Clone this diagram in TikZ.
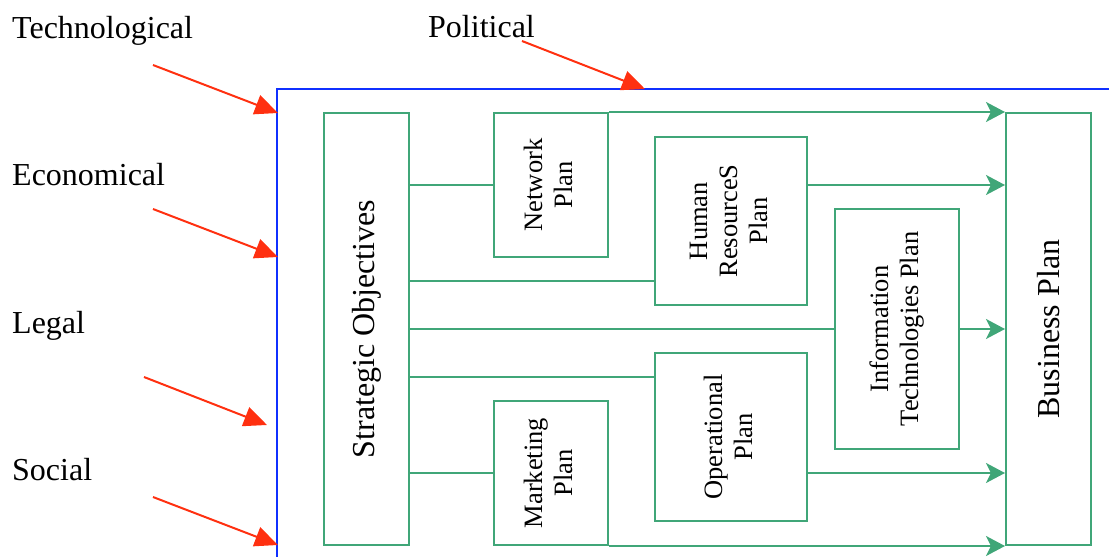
\documentclass[tikz,border=0pt]{standalone}
\usepackage{fontspec}
\usepackage{graphicx}
\setmainfont{Liberation Serif}
\usetikzlibrary{arrows.meta,calc}

\definecolor{planGreen}{RGB}{64,166,120}
\definecolor{forceRed}{RGB}{255,48,16}
\definecolor{frameBlue}{RGB}{16,48,255}

\newcommand{\bigtxt}{\fontsize{32}{36}\selectfont}
\newcommand{\smalltxt}{\fontsize{26.5}{30}\selectfont}

\tikzset{
  planbox/.style={draw=planGreen, line width=2pt, inner sep=0pt, fill=white},
  link/.style={draw=planGreen, line width=2pt},
  flow/.style={link, -{Stealth[length=19pt, width=20pt, inset=5pt]}},
  force/.style={draw=forceRed, line width=2pt, -{Triangle[length=23pt, width=20pt]}},
  forcelabel/.style={anchor=base west, inner sep=0pt, font=\bigtxt},
}

\begin{document}
\begin{tikzpicture}[x=1pt, y=-1pt]
\useasboundingbox (0,0) rectangle (1109,557);

% environment frame
\draw[frameBlue, line width=2.5pt] (277,560) -- (277,89) -- (1112,89);

% plan boxes
\node[planbox, minimum width=85pt, minimum height=432pt] (so) at (366.5,329)
  {\rotatebox{90}{\bigtxt Strategic Objectives}};
\node[planbox, minimum width=114pt, minimum height=144pt] (net) at (551,185)
  {\rotatebox{90}{\smalltxt\begin{tabular}{@{}c@{}}Network\\Plan\end{tabular}}};
\node[planbox, minimum width=152pt, minimum height=168pt] (hr) at (731,221)
  {\rotatebox{90}{\smalltxt\begin{tabular}{@{}c@{}}Human\\ResourceS\\Plan\end{tabular}}};
\node[planbox, minimum width=124pt, minimum height=240pt] (it) at (897,329)
  {\rotatebox{90}{\smalltxt\begin{tabular}{@{}c@{}}Information\\Technologies Plan\end{tabular}}};
\node[planbox, minimum width=152pt, minimum height=168pt] (op) at (731,437)
  {\rotatebox{90}{\smalltxt\begin{tabular}{@{}c@{}}Operational\\Plan\end{tabular}}};
\node[planbox, minimum width=114pt, minimum height=144pt] (mk) at (551,473)
  {\rotatebox{90}{\smalltxt\begin{tabular}{@{}c@{}}Marketing\\Plan\end{tabular}}};
\node[planbox, minimum width=85pt, minimum height=432pt] (bp) at (1048.5,329)
  {\rotatebox{90}{\bigtxt Business Plan}};

% objectives feeding the plans
\draw[link] (so.east |- net.west) -- (net.west);
\draw[link] (so.east |- 0,281) -- (hr.west |- 0,281);
\draw[link] (so.east) -- (it.west);
\draw[link] (so.east |- 0,377) -- (op.west |- 0,377);
\draw[link] (so.east |- mk.west) -- (mk.west);

% plans feeding the business plan
\draw[flow] (net.north east) -- (bp.north west);
\draw[flow] (hr.east |- 0,185) -- (bp.west |- 0,185);
\draw[flow] (it.east) -- (bp.west);
\draw[flow] (op.east |- 0,473) -- (bp.west |- 0,473);
\draw[flow] (mk.south east) -- (bp.south west);

% external forces
\node[forcelabel] (tech) at (12,38) {Technological};
\node[forcelabel] (econ) at (12,185) {Economical};
\node[forcelabel] (legal) at (12,333) {Legal};
\node[forcelabel] (soc) at (12,480) {Social};
\node[forcelabel] (pol) at (428,37) {Political};

\coordinate (techA) at (153,65);  \coordinate (techB) at (278,113);
\coordinate (econA) at (153,209); \coordinate (econB) at (278,257);
\coordinate (legA) at (144,377);  \coordinate (legB) at (267,425);
\coordinate (socA) at (153,497);  \coordinate (socB) at (278,545);
\coordinate (polA) at (522,41);   \coordinate (polB) at (645,89);

\draw[force] (techA) -- (techB);
\draw[force] (econA) -- (econB);
\draw[force] (legA) -- (legB);
\draw[force] (socA) -- (socB);
\draw[force] (polA) -- (polB);
\end{tikzpicture}
\end{document}
